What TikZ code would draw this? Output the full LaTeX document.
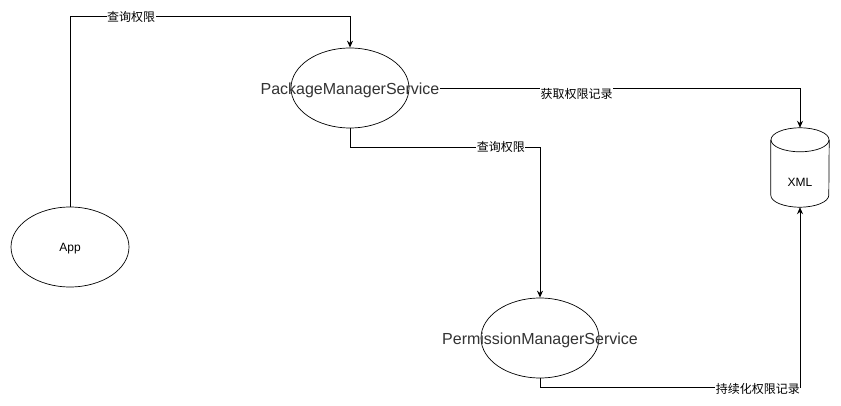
\documentclass[tikz,border=0pt]{standalone}
\usepackage{fontspec}
\setmainfont{Liberation Sans}
\newfontfamily\cjk{Noto Sans CJK SC}
\usepackage{tikz}
\usetikzlibrary{arrows.meta,shapes.geometric,positioning}
\definecolor{txtgray}{HTML}{333333}

\begin{document}
\begin{tikzpicture}[x=1pt,y=-1pt,
  svc/.style={draw=black, line width=0.7pt, ellipse, minimum width=118pt, minimum height=80pt, inner sep=0pt},
  bigtxt/.style={text=txtgray, font=\fontsize{16}{18}\selectfont, inner sep=0pt, yshift=-2pt},
  smalltxt/.style={text=black, font=\fontsize{12}{14}\selectfont, inner sep=0pt, yshift=-1.5pt},
  lbl/.style={fill=white, font=\cjk\fontsize{12}{14}\selectfont, inner sep=0.5pt},
  flow/.style={draw=black, line width=0.9pt, -{Stealth[length=7pt,width=6pt]}},
  dbbox/.style={minimum width=58pt, minimum height=79pt, inner sep=0pt}]
\useasboundingbox (0,0) rectangle (841,406);
\fill[white] (0,0) rectangle (841,406);

\node[svc] (app) at (70,247) {};
\node[smalltxt] (apptext) at (app.center) {App};
\node[svc] (pms) at (350,88) {};
\node[bigtxt] (pmstext) at (pms.center) {PackageManagerService};
\node[svc] (perms) at (540,338) {};
\node[bigtxt] (permstext) at (perms.center) {PermissionManagerService};

\node[dbbox] (xml) at (800,167.5) {};
\draw[line width=0.7pt] ([yshift=-12pt]xml.north west) -- ([yshift=12pt]xml.south west)
  arc[start angle=180, end angle=360, x radius=29pt, y radius=12pt]
  -- ([yshift=-12pt]xml.north east);
\draw[line width=0.7pt] ([yshift=-12pt]xml.north) ellipse[x radius=29pt, y radius=12pt];
\node[smalltxt] (xmltext) at (800,181) {XML};

\draw[flow] (app.north) -- ++(0,-190) -| node[lbl, pos=0.109] {查询权限} (pms.north);
\draw[flow] (pmstext.east |- pms.center) -| node[lbl, pos=0.19, yshift=-6pt] {获取权限记录} (xml.north);
\draw[flow] (pms.south) -- ++(0,19) -| node[lbl, pos=0.397] {查询权限} (perms.north);
\draw[flow] (perms.south) -- ++(0,9) -| node[lbl, pos=0.419, yshift=-2pt] {持续化权限记录} (xml.south);
\end{tikzpicture}
\end{document}
